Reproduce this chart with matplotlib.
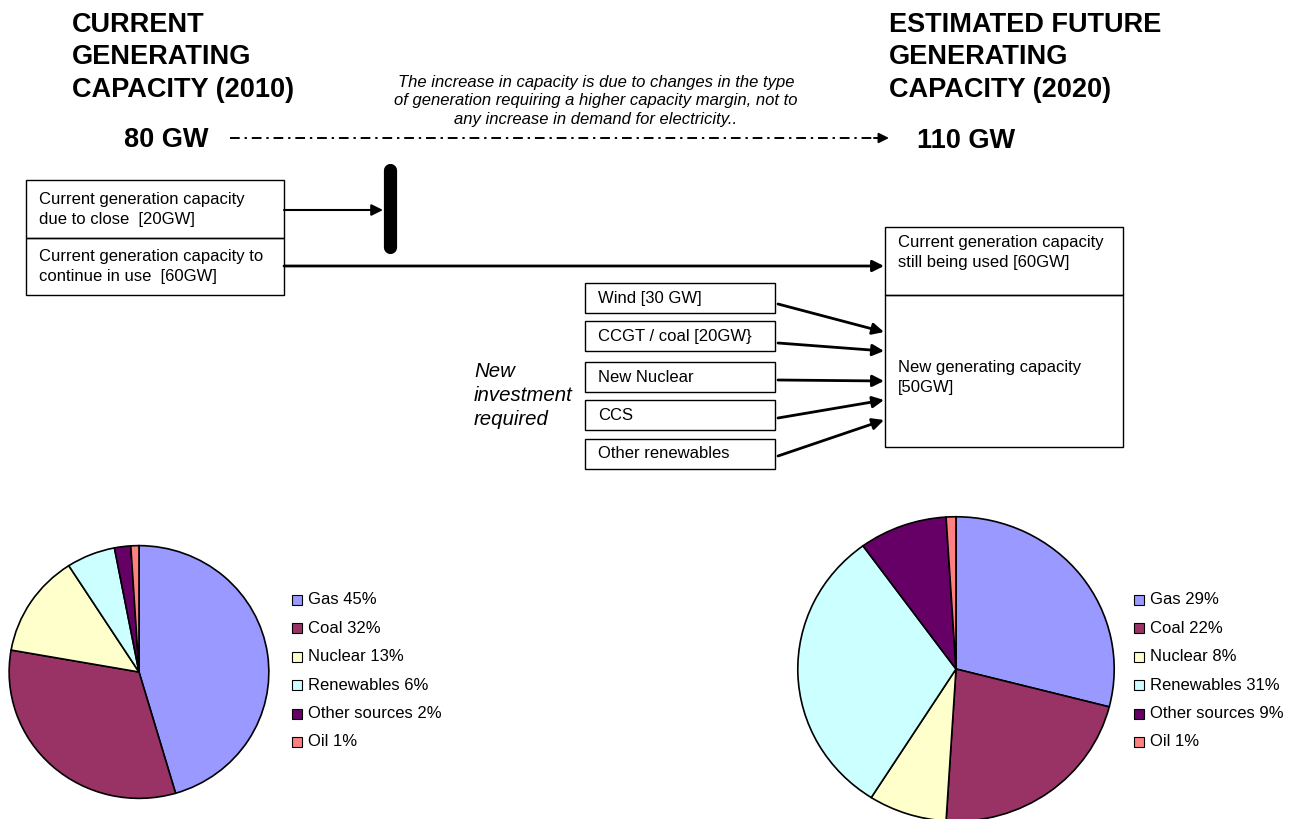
import matplotlib
matplotlib.use('Agg')
import matplotlib.pyplot as plt
from matplotlib.patches import Rectangle

plt.rcParams['font.family'] = ['Liberation Sans', 'DejaVu Sans']

# pie data
sources = ['Gas', 'Coal', 'Nuclear', 'Renewables', 'Other sources', 'Oil']
share_2010 = [45, 32, 13, 6, 2, 1]
share_2020 = [29, 22, 8, 31, 9, 1]
colors = ['#9999FF', '#993366', '#FFFFCC', '#CCFFFF', '#660066', '#FF8080']

# headline figures
capacity_2010 = '80 GW'
capacity_2020 = '110 GW'
title_left = ['CURRENT', 'GENERATING', 'CAPACITY (2010)']
title_right = ['ESTIMATED FUTURE', 'GENERATING', 'CAPACITY (2020)']
note_lines = ['The increase in capacity is due to changes in the type',
              'of generation requiring a higher capacity margin, not to',
              'any increase in demand for electricity..']

# flow boxes
current_boxes = [['Current generation capacity', 'due to close  [20GW]'],
                 ['Current generation capacity to', 'continue in use  [60GW]']]
future_boxes = [['Current generation capacity', 'still being used [60GW]'],
                ['New generating capacity', '[50GW]']]
new_investment = ['Wind [30 GW]', 'CCGT / coal [20GW}', 'New Nuclear', 'CCS',
                  'Other renewables']
investment_label = ['New', 'investment', 'required']

W, H = 1298, 819
fig = plt.figure(figsize=(W / 100, H / 100), dpi=100)
ax = fig.add_axes([0, 0, 1, 1])
ax.set_xlim(0, W)
ax.set_ylim(H, 0)
ax.axis('off')

# titles
for i, line in enumerate(title_left):
    ax.text(72, 32 + i * 32.5, line, fontsize=19.5, fontweight='bold', va='baseline')
for i, line in enumerate(title_right):
    ax.text(889, 32 + i * 32.5, line, fontsize=19.5, fontweight='bold', va='baseline')
ax.text(124, 147, capacity_2010, fontsize=19.5, fontweight='bold', va='baseline')
ax.text(917, 148, capacity_2020, fontsize=19.5, fontweight='bold', va='baseline')

for i, line in enumerate(note_lines):
    ax.text(596, 87 + i * 18.5, line, fontsize=12, style='italic',
            ha='center', va='baseline')

# dash-dot growth arrow
ax.plot([230, 878], [138, 138], color='black', lw=1.4,
        linestyle=(0, (5, 2.5, 1.2, 2.5)))
ax.annotate('', xy=(889, 138), xytext=(874, 138),
            arrowprops=dict(arrowstyle='-|>', color='black', lw=1.4,
                            mutation_scale=15, shrinkA=0, shrinkB=0))

# current capacity boxes
for i, lines in enumerate(current_boxes):
    top = 180 + i * 57.5
    ax.add_patch(Rectangle((26, top), 258, 57.5, fill=False, ec='black', lw=1))
    for j, line in enumerate(lines):
        ax.text(39, top + 24 + j * 20, line, fontsize=12, va='baseline')

# closing capacity hits the barrier
ax.annotate('', xy=(383, 210), xytext=(284, 210),
            arrowprops=dict(arrowstyle='-|>', color='black', lw=1.5,
                            mutation_scale=17, shrinkA=0, shrinkB=0))
ax.plot([389.5, 389.5], [169.5, 246.5], color='black', lw=9.5,
        solid_capstyle='round')

# continuing capacity
ax.annotate('', xy=(884, 266), xytext=(284, 266),
            arrowprops=dict(arrowstyle='-|>', color='black', lw=2,
                            mutation_scale=17, shrinkA=0, shrinkB=0))

# future capacity boxes
ax.add_patch(Rectangle((885, 227), 238, 68, fill=False, ec='black', lw=1))
ax.add_patch(Rectangle((885, 295), 238, 152, fill=False, ec='black', lw=1))
for j, line in enumerate(future_boxes[0]):
    ax.text(898, 247 + j * 20, line, fontsize=12, va='baseline')
for j, line in enumerate(future_boxes[1]):
    ax.text(898, 372 + j * 20, line, fontsize=12, va='baseline')

# new investment boxes and arrows
box_tops = [283, 321, 362, 400, 439]
arrow_start_y = [304, 343, 380, 418, 456]
arrow_end_y = [332, 351, 381, 400, 420]
for name, top, y0, y1 in zip(new_investment, box_tops, arrow_start_y, arrow_end_y):
    ax.add_patch(Rectangle((585, top), 190, 30, fill=False, ec='black', lw=1))
    ax.text(598, top + 15, name, fontsize=12, va='center')
    ax.annotate('', xy=(884, y1), xytext=(778, y0),
                arrowprops=dict(arrowstyle='-|>', color='black', lw=2,
                                mutation_scale=17, shrinkA=0, shrinkB=0))

for i, line in enumerate(investment_label):
    ax.text(474, 377 + i * 24, line, fontsize=14.7, style='italic', va='baseline')


def draw_pie(values, left, right, top, bottom):
    pax = fig.add_axes([left / W, 1 - bottom / H, (right - left) / W, (bottom - top) / H])
    pax.pie(values, colors=colors, startangle=90, counterclock=False, radius=1,
            wedgeprops=dict(edgecolor='black', linewidth=1.2))
    pax.set_aspect('auto')
    pax.set_xlim(-1.005, 1.005)
    pax.set_ylim(-1.005, 1.005)
    pax.axis('off')


def draw_legend(values, x, y):
    for i, (name, v) in enumerate(zip(sources, values)):
        yy = y + i * 28.4
        ax.add_patch(Rectangle((x, yy - 5), 10, 10, fc=colors[i], ec='black', lw=0.8))
        ax.text(x + 16, yy, f'{name} {v}%', fontsize=12, va='center')


draw_pie(share_2010, 8.5, 269.5, 545, 799)
draw_legend(share_2010, 292, 600)
draw_pie(share_2020, 797, 1115, 516, 822)
draw_legend(share_2020, 1134, 600)

fig.savefig('out.png', dpi=100)
